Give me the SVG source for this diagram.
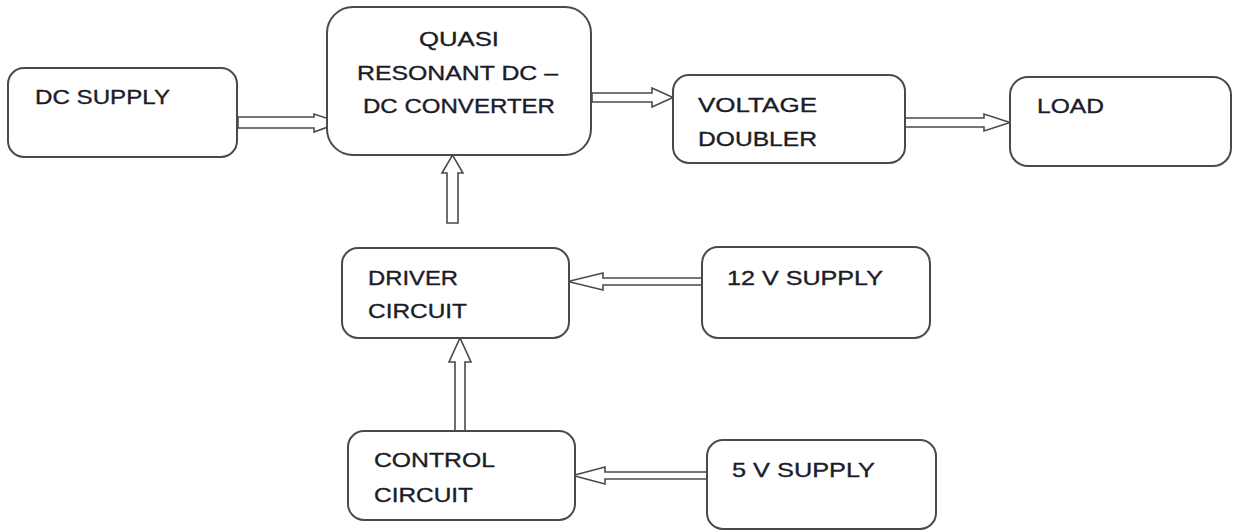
<svg xmlns="http://www.w3.org/2000/svg" width="1235" height="532" viewBox="0 0 1235 532">
<style>
.box{fill:#fff;stroke:#4a4a4a;stroke-width:2}
.arr{fill:#fff;stroke:#4a4a4a;stroke-width:1.6;stroke-linejoin:miter}
text{font-family:"Liberation Sans",Arial,sans-serif;font-size:21px;fill:#1c1c28;stroke:#1c1c28;stroke-width:0.35}
</style>
<rect width="1235" height="532" fill="#fff"/>
<g id="connectors">
<polygon class="arr" points="238,117 314,117 314,114 340,122.5 314,132 314,128 238,128"/>
<polygon class="arr" points="592,93 652,93 652,88 673,97.5 652,107 652,102 592,102"/>
<polygon class="arr" points="905,118 984,118 984,114 1010,122.5 984,131 984,127 905,127"/>
<polygon class="arr" points="702,278 603,278 603,273 568,281.5 603,290 603,285 702,285"/>
<polygon class="arr" points="707,472 605,472 605,467 573,475.5 605,484 605,479 707,479"/>
<polygon class="arr" points="447,223 447,173 442,173 452.5,155 463,173 458,173 458,223"/>
<polygon class="arr" points="455,431 455,362 449,362 460,338 471,362 465,362 465,431"/>
</g>
<g id="dc-supply">
<rect class="box" x="8" y="68" width="229" height="89" rx="16"/>
<text x="35" y="104" textLength="135" lengthAdjust="spacingAndGlyphs">DC SUPPLY</text>
</g>
<g id="qrc">
<rect class="box" x="327" y="7" width="264" height="148" rx="26"/>
<text x="419" y="46" textLength="80" lengthAdjust="spacingAndGlyphs">QUASI</text>
<text x="357" y="80" textLength="201" lengthAdjust="spacingAndGlyphs">RESONANT DC –</text>
<text x="363" y="113" textLength="192" lengthAdjust="spacingAndGlyphs">DC CONVERTER</text>
</g>
<g id="voltage-doubler">
<rect class="box" x="673" y="75" width="232" height="88" rx="16"/>
<text x="698" y="112" textLength="119" lengthAdjust="spacingAndGlyphs">VOLTAGE</text>
<text x="698" y="146" textLength="119" lengthAdjust="spacingAndGlyphs">DOUBLER</text>
</g>
<g id="load">
<rect class="box" x="1010" y="77" width="221" height="89" rx="18"/>
<text x="1037" y="113" textLength="67" lengthAdjust="spacingAndGlyphs">LOAD</text>
</g>
<g id="driver-circuit">
<rect class="box" x="342" y="248" width="227" height="90" rx="16"/>
<text x="368" y="285" textLength="90" lengthAdjust="spacingAndGlyphs">DRIVER</text>
<text x="368" y="318" textLength="99" lengthAdjust="spacingAndGlyphs">CIRCUIT</text>
</g>
<g id="supply-12v">
<rect class="box" x="702" y="247" width="228" height="91" rx="16"/>
<text x="727" y="285" textLength="156" lengthAdjust="spacingAndGlyphs">12 V SUPPLY</text>
</g>
<g id="control-circuit">
<rect class="box" x="348" y="431" width="227" height="89" rx="16"/>
<text x="374" y="467" textLength="121" lengthAdjust="spacingAndGlyphs">CONTROL</text>
<text x="374" y="502" textLength="99" lengthAdjust="spacingAndGlyphs">CIRCUIT</text>
</g>
<g id="supply-5v">
<rect class="box" x="707" y="440" width="229" height="89" rx="16"/>
<text x="732" y="477" textLength="143" lengthAdjust="spacingAndGlyphs">5 V SUPPLY</text>
</g>
</svg>
